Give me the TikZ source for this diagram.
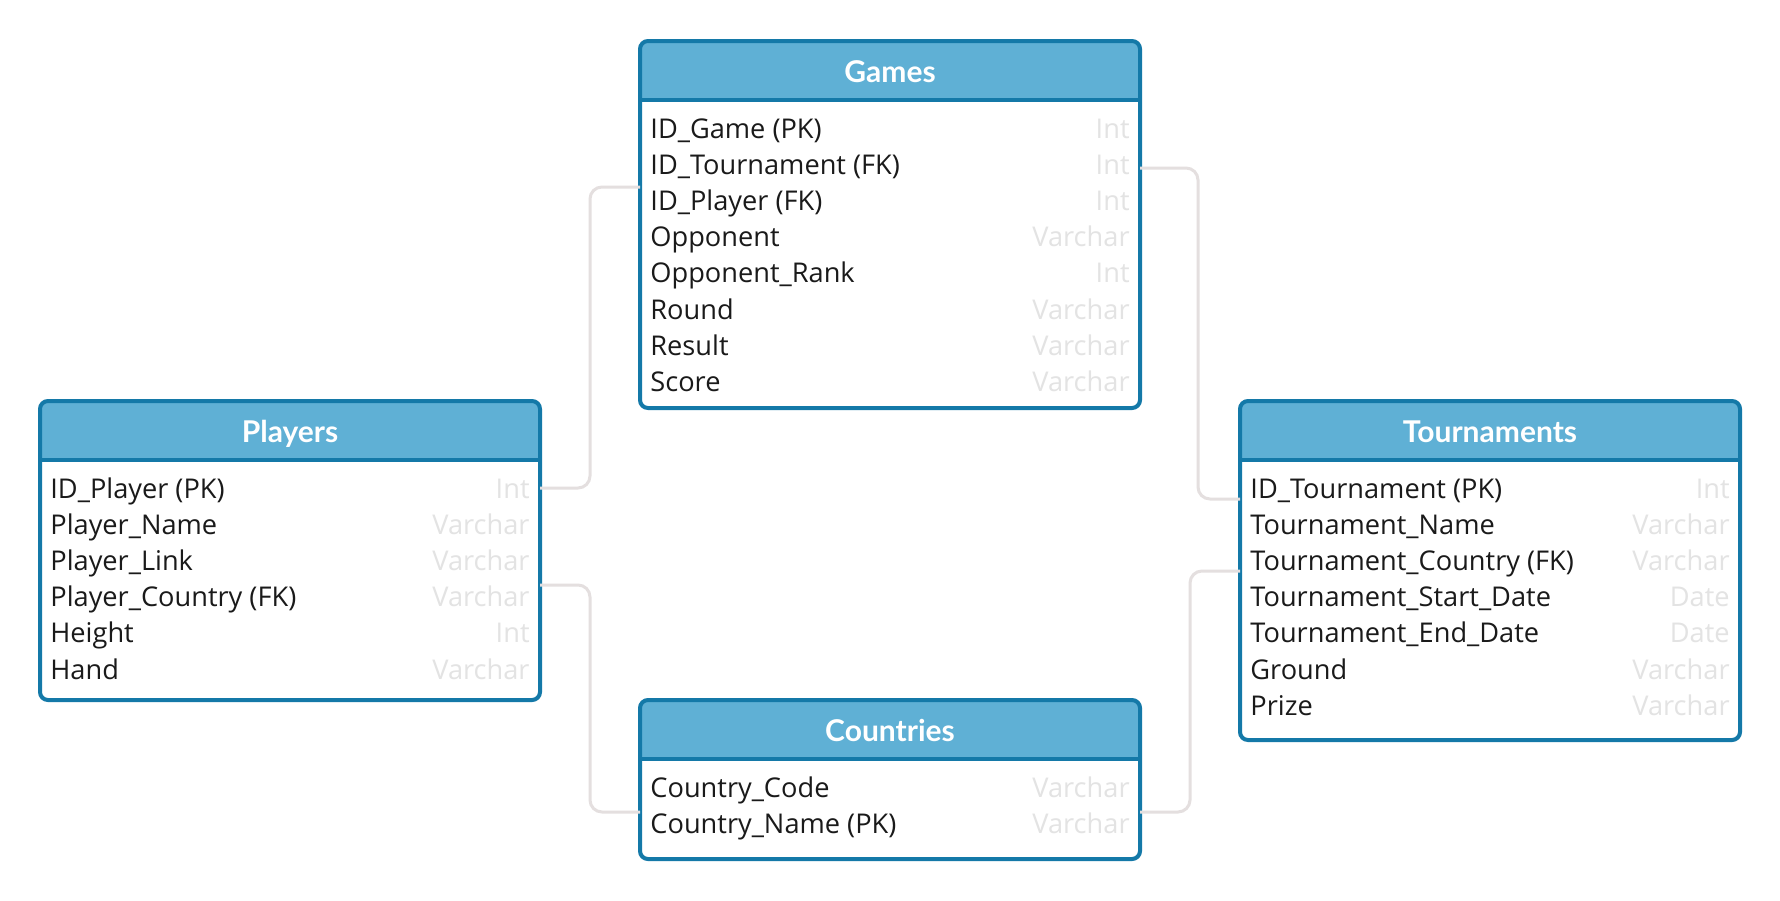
\documentclass[tikz,border=0pt]{standalone}
\usepackage{fontspec}
\setmainfont{Open Sans}
\newfontfamily\titlefont{Lato}
\definecolor{bord}{HTML}{1479A8}
\definecolor{headc}{HTML}{5FB0D5}
\definecolor{typec}{HTML}{E3E3E3}
\definecolor{connc}{HTML}{E4DFDF}
\definecolor{txtc}{HTML}{1A1A1A}
\tikzset{
  tablebody/.style={draw=none, fill=white, rectangle, inner sep=0pt, outer sep=0pt,
    minimum width=250pt, anchor=north west},
  tableborder/.style={draw=bord, line width=2pt, rounded corners=4pt},
  headline/.style={draw=bord, line width=2pt},
  titletext/.style={inner sep=0pt, anchor=base, text=white, font=\titlefont\bfseries\fontsize{15}{18}\selectfont},
  fieldtext/.style={inner sep=0pt, anchor=base west, text=txtc, font=\fontsize{13.6}{16}\selectfont},
  typetext/.style={inner sep=0pt, anchor=base east, text=typec, font=\fontsize{13.6}{16}\selectfont},
  conn/.style={draw=connc, line width=1.5pt, rounded corners=6pt},
}
% #1 name, #2 left x (px), #3 top y (px), #4 height (px), #5 title, #6 rows
\newcommand\ertable[6]{%
  \node[tablebody, minimum height=#4*0.5pt] (#1) at (#2,#3) {};
  \begin{scope}
    \clip[rounded corners=4pt] (#1.north west) rectangle (#1.south east);
    \fill[headc] (#1.north west) rectangle ([yshift=-29.5pt]#1.north east);
  \end{scope}
  \draw[headline] ([yshift=-29.5pt]#1.north west) -- ([yshift=-29.5pt]#1.north east);
  \draw[tableborder] (#1.north west) rectangle (#1.south east);
  \node[titletext] (#1-title) at ([yshift=-20.5pt]#1.north) {#5};
  \foreach \f/\t [count=\i] in {#6} {
    \pgfmathsetmacro\yy{#3+59+28+(\i-1)*36.1+10.5}
    \node[fieldtext] (#1-f\i) at (#2+10,\yy) {\f};
    \node[typetext] (#1-t\i) at (#2+490,\yy) {\t};
  }
}
\begin{document}
\begin{tikzpicture}[x=0.5pt,y=-0.5pt]
\useasboundingbox[fill=white] (0,0) rectangle (1780,900);
\coordinate (j1) at (590,488);
\coordinate (j2) at (590,187);
\coordinate (j3) at (1198,168);
\coordinate (j4) at (1198,499);
\coordinate (j5) at (590,585);
\coordinate (j6) at (590,812);
\coordinate (j7) at (1190,812);
\coordinate (j8) at (1190,571);
\ertable{games}{640}{41}{367}{Games}{ID\_Game (PK)/Int, ID\_Tournament (FK)/Int, ID\_Player (FK)/Int, Opponent/Varchar, Opponent\_Rank/Int, Round/Varchar, Result/Varchar, Score/Varchar}
\ertable{players}{40}{401}{299}{Players}{ID\_Player (PK)/Int, Player\_Name/Varchar, Player\_Link/Varchar, Player\_Country (FK)/Varchar, Height/Int, Hand/Varchar}
\ertable{tournaments}{1240}{401}{339}{Tournaments}{ID\_Tournament (PK)/Int, Tournament\_Name/Varchar, Tournament\_Country (FK)/Varchar, Tournament\_Start\_Date/Date, Tournament\_End\_Date/Date, Ground/Varchar, Prize/Varchar}
\ertable{countries}{640}{700}{159}{Countries}{Country\_Code/Varchar, Country\_Name (PK)/Varchar}
\draw[conn] (players.east |- j1) -- (j1) -- (j2) -- (games.west |- j2);
\draw[conn] (games.east |- j3) -- (j3) -- (j4) -- (tournaments.west |- j4);
\draw[conn] (players.east |- j5) -- (j5) -- (j6) -- (countries.west |- j6);
\draw[conn] (countries.east |- j7) -- (j7) -- (j8) -- (tournaments.west |- j8);
\end{tikzpicture}
\end{document}
